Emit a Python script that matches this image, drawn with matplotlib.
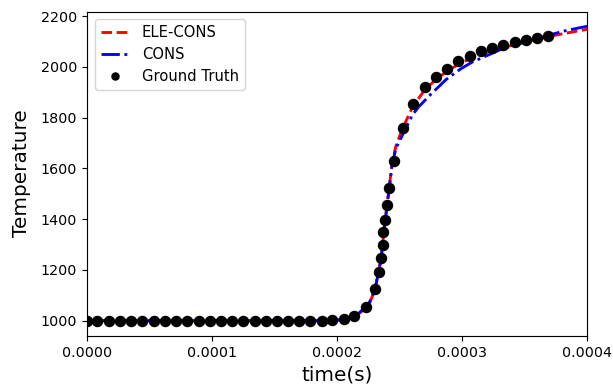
import matplotlib
matplotlib.use("Agg")
import matplotlib.pyplot as plt
import numpy as np

# Ground truth samples (time in seconds, temperature)
gt_time = [0.0, 0.8e-5, 1.7e-5, 2.6e-5, 3.5e-5, 4.4e-5, 5.3e-5, 6.2e-5, 7.1e-5, 8.0e-5,
           8.9e-5, 9.8e-5, 10.7e-5, 11.55e-5, 12.45e-5, 13.4e-5, 14.3e-5, 15.2e-5, 16.05e-5,
           16.95e-5, 17.85e-5, 18.75e-5, 19.6e-5, 20.54e-5, 21.34e-5, 22.3e-5, 23.02e-5,
           23.34e-5, 23.52e-5, 23.63e-5, 23.68e-5, 23.82e-5, 23.95e-5, 24.14e-5, 24.54e-5,
           25.23e-5, 26.08e-5, 27.02e-5, 27.9e-5, 28.8e-5, 29.68e-5, 30.62e-5, 31.47e-5,
           32.4e-5, 33.28e-5, 34.19e-5, 35.07e-5, 35.98e-5, 36.83e-5]
gt_temp = [1000, 1000, 1000, 1000, 1000, 1000, 1000, 1000, 1000, 1000,
           1000, 1000, 1000, 1000, 1000, 1000, 1000, 1000, 1000,
           1000, 1000, 1000, 1002, 1007, 1017, 1054, 1126,
           1190, 1247, 1298, 1349, 1396, 1455, 1523, 1631,
           1761, 1855, 1921, 1961, 1993, 2022, 2042, 2061,
           2075, 2087, 2096, 2107, 2112, 2120]

# ELE-CONS prediction
ele_time = [0.0, 1.9e-4, 2.05e-4, 2.15e-4, 2.25e-4, 2.3e-4, 2.35e-4, 2.38e-4, 2.41e-4,
            2.44e-4, 2.47e-4, 2.52e-4, 2.6e-4, 2.7e-4, 2.8e-4, 2.9e-4, 3.0e-4, 3.1e-4,
            3.2e-4, 3.3e-4, 3.4e-4, 3.5e-4, 3.6e-4, 3.7e-4, 3.8e-4, 3.9e-4, 4.0e-4]
ele_temp = [1000, 1000, 1004, 1018, 1060, 1120, 1245, 1385, 1505,
            1625, 1690, 1755, 1840, 1910, 1955, 1990, 2018, 2040,
            2058, 2072, 2085, 2098, 2110, 2120, 2130, 2139, 2148]

# CONS prediction
cons_time = [0.0, 1.9e-4, 2.05e-4, 2.15e-4, 2.25e-4, 2.3e-4, 2.35e-4, 2.38e-4, 2.41e-4,
             2.44e-4, 2.47e-4, 2.52e-4, 2.6e-4, 2.65e-4, 2.74e-4, 2.87e-4, 2.99e-4,
             3.08e-4, 3.2e-4, 3.3e-4, 3.44e-4, 3.57e-4, 3.7e-4, 3.83e-4, 4.0e-4]
cons_temp = [1000, 1000, 1004, 1020, 1065, 1120, 1240, 1380, 1500,
             1620, 1680, 1730, 1810, 1842, 1888, 1950, 1993,
             2019, 2045, 2067, 2088, 2107, 2126, 2143, 2160]

dpi = 103
fig = plt.figure(figsize=(613 / dpi, 387 / dpi), dpi=dpi)
ax = fig.add_axes([87.3 / 613, 1 - 335.7 / 387, 500 / 613, (335.7 - 11.5) / 387])

ax.plot(ele_time, ele_temp, color="red", linestyle="--", linewidth=2, label="ELE-CONS")
ax.plot(cons_time, cons_temp, color="blue", linestyle="-.", linewidth=2, label="CONS")
ax.plot(gt_time, gt_temp, "o", color="black", markersize=7, linestyle="none", label="Ground Truth")

ax.set_xlim(0, 0.0004)
ax.set_ylim(941, 2218)
ax.set_xticks([0.0, 0.0001, 0.0002, 0.0003, 0.0004])
ax.set_xticklabels(["0.0000", "0.0001", "0.0002", "0.0003", "0.0004"])
ax.set_yticks([1000, 1200, 1400, 1600, 1800, 2000, 2200])
ax.tick_params(labelsize=10)
ax.set_xlabel("time(s)", fontsize=14)
ax.set_ylabel("Temperature", fontsize=14, labelpad=7)
ax.legend(loc="upper left", fontsize=10.3, markerscale=0.7)

fig.savefig("out.png", dpi=dpi)
